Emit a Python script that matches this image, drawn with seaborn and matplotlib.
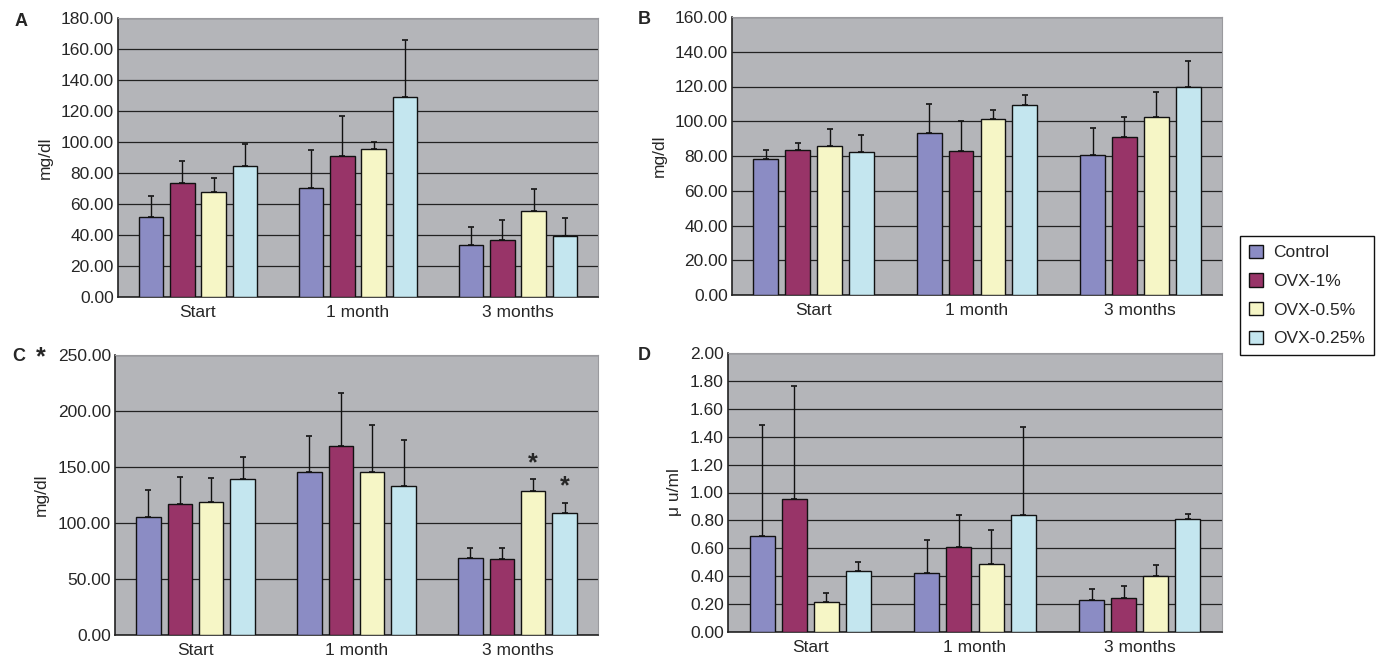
import matplotlib
matplotlib.use("Agg")
import matplotlib.pyplot as plt
import matplotlib.patches as mpatches
import numpy as np
import pandas as pd
import seaborn as sns

# ---- data ----
timepoints = ["Start", "1 month", "3 months"]
groups = ["Control", "OVX-1%", "OVX-0.5%", "OVX-0.25%"]
colors = ["#8b8cc4", "#983468", "#f6f6c6", "#c4e6ef"]

# panel A (mg/dl): means and SD per group, one value per timepoint
a_mean = {
    "Control": [51.5, 70.3, 33.5],
    "OVX-1%": [73.5, 91.0, 37.0],
    "OVX-0.5%": [67.7, 95.5, 55.5],
    "OVX-0.25%": [84.5, 129.0, 39.4],
}
a_sd = {
    "Control": [13.5, 24.7, 11.5],
    "OVX-1%": [14.5, 26.0, 13.0],
    "OVX-0.5%": [9.3, 4.5, 14.5],
    "OVX-0.25%": [14.5, 37.0, 11.6],
}

# panel B (mg/dl)
b_mean = {
    "Control": [78.3, 93.2, 80.6],
    "OVX-1%": [83.5, 82.9, 91.0],
    "OVX-0.5%": [85.8, 101.3, 102.4],
    "OVX-0.25%": [82.3, 109.4, 119.7],
}
b_sd = {
    "Control": [5.2, 16.8, 15.4],
    "OVX-1%": [4.0, 17.1, 11.5],
    "OVX-0.5%": [9.7, 5.2, 14.6],
    "OVX-0.25%": [9.7, 5.6, 15.0],
}

# panel C (mg/dl)
c_mean = {
    "Control": [105.4, 145.5, 68.8],
    "OVX-1%": [117.0, 168.8, 67.9],
    "OVX-0.5%": [118.8, 145.5, 128.6],
    "OVX-0.25%": [139.3, 133.0, 109.0],
}
c_sd = {
    "Control": [24.1, 32.2, 8.9],
    "OVX-1%": [24.0, 47.2, 9.8],
    "OVX-0.5%": [21.2, 42.0, 10.4],
    "OVX-0.25%": [19.7, 41.0, 9.0],
}

# panel D (micro u/ml)
d_mean = {
    "Control": [0.688, 0.42, 0.23],
    "OVX-1%": [0.956, 0.61, 0.245],
    "OVX-0.5%": [0.213, 0.49, 0.40],
    "OVX-0.25%": [0.437, 0.84, 0.81],
}
d_sd = {
    "Control": [0.798, 0.24, 0.08],
    "OVX-1%": [0.81, 0.23, 0.085],
    "OVX-0.5%": [0.067, 0.24, 0.08],
    "OVX-0.25%": [0.063, 0.63, 0.035],
}

# significance marks in panel C (group, timepoint)
c_stars = [("OVX-0.5%", "3 months"), ("OVX-0.25%", "3 months")]

panels = [
    ("A", a_mean, a_sd, 180, 20, "mg/dl", [118, 297, 480, 279]),
    ("B", b_mean, b_sd, 160, 20, "mg/dl", [732, 295, 490, 278]),
    ("C", c_mean, c_sd, 250, 50, "mg/dl", [115, 635, 483, 280]),
    ("D", d_mean, d_sd, 2.0, 0.2, "\u03bc u/ml", [728, 632, 494, 279]),
]

W, H = 1378, 658
sns.set_theme(style="white")
plt.rcParams["font.family"] = ["Liberation Sans", "DejaVu Sans"]

fig = plt.figure(figsize=(W / 100, H / 100), dpi=100)
fig.patch.set_facecolor("white")

for label, means, sds, ymax, step, ylab, (px, pb, pw, ph) in panels:
    ax = fig.add_axes([px / W, (H - pb) / H, pw / W, ph / H])
    df = pd.DataFrame(
        [(t, g, means[g][i]) for g in groups for i, t in enumerate(timepoints)],
        columns=["time", "group", "value"],
    )
    ax.set_facecolor("#b4b5b9")
    ax.set_axisbelow(True)
    ax.yaxis.grid(True, color="#222222", linewidth=0.9)
    sns.barplot(
        data=df, x="time", y="value", hue="group",
        order=timepoints, hue_order=groups, palette=colors, saturation=1,
        width=0.78, gap=0.22, edgecolor="#111111", linewidth=1.0,
        errorbar=None, legend=False, ax=ax, zorder=3,
    )

    # upper-only error bars, one container per group
    for g, cont in zip(groups, ax.containers):
        xs = [b.get_x() + b.get_width() / 2 for b in cont]
        hs = [b.get_height() for b in cont]
        ax.errorbar(
            xs, hs, yerr=[np.zeros(len(hs)), sds[g]], fmt="none",
            ecolor="#111111", elinewidth=1.0, capsize=2.5, capthick=1.2, zorder=2,
        )
        if label == "C":
            for g2, t in c_stars:
                if g2 == g:
                    j = timepoints.index(t)
                    ax.text(xs[j], hs[j] + sds[g][j] + 4, "*", ha="center",
                            va="bottom", fontsize=18, fontweight="bold")

    ax.set_xlim(-0.5, 2.5)
    ax.set_ylim(0, ymax)
    ax.set_yticks(np.arange(0, ymax + step / 2, step))
    ax.yaxis.set_major_formatter(matplotlib.ticker.FormatStrFormatter("%.2f"))
    ax.set_xticks([0.5, 1.5], minor=True)
    ax.tick_params(axis="x", which="major", length=0, pad=6, labelsize=12.5)
    ax.tick_params(axis="x", which="minor", length=3, direction="in",
                   color="#222222", width=1)
    ax.tick_params(axis="y", length=0, pad=3, labelsize=12.5)
    ax.set_xlabel("")
    ax.set_ylabel(ylab, fontsize=12.5, labelpad=6)
    for side in ["left", "bottom"]:
        ax.spines[side].set_color("#222222")
        ax.spines[side].set_linewidth(1.2)
    for side in ["top", "right"]:
        ax.spines[side].set_color("#9a9a9e")
        ax.spines[side].set_linewidth(0.8)

fig.text(15 / W, 1 - 22 / H, "A", fontsize=13, fontweight="bold", va="center")
fig.text(638 / W, 1 - 20 / H, "B", fontsize=13, fontweight="bold", va="center")
fig.text(12 / W, 1 - 357 / H, "C", fontsize=13, fontweight="bold", va="center")
fig.text(36 / W, 1 - 357 / H, "*", fontsize=18, fontweight="bold", va="center")
fig.text(638 / W, 1 - 355 / H, "D", fontsize=13, fontweight="bold", va="center")

handles = [mpatches.Patch(facecolor=c, edgecolor="#111111", linewidth=1.0)
           for c in colors]
leg = fig.legend(
    handles, groups, loc="upper left", bbox_to_anchor=(1240 / W, 1 - 236 / H),
    fontsize=12.5, frameon=True, fancybox=False, edgecolor="#111111",
    framealpha=1, handlelength=0.8, handleheight=0.8, handletextpad=0.6,
    labelspacing=0.75, borderpad=0.5, borderaxespad=0,
)
leg.get_frame().set_linewidth(1.0)

fig.savefig("out.png", dpi=100)
